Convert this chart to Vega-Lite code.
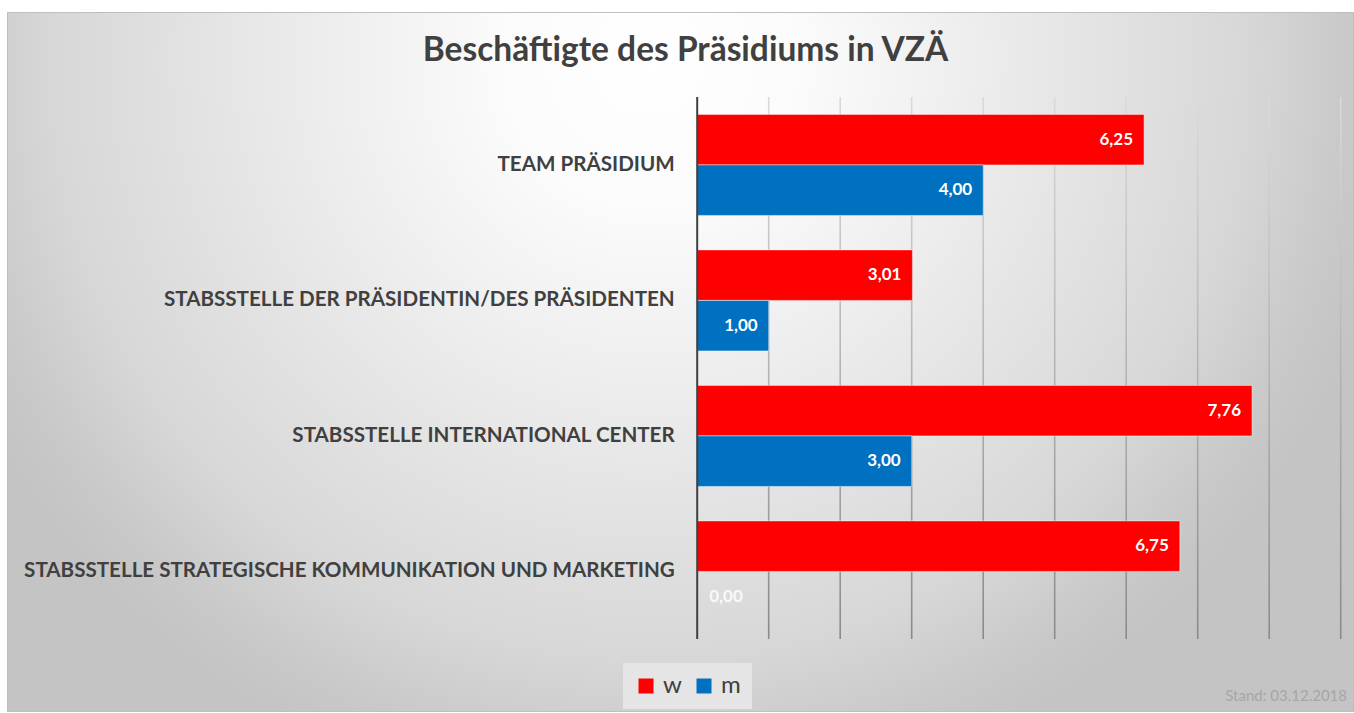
{
  "$schema": "https://vega.github.io/schema/vega-lite/v6.json",
  "width": 1347,
  "height": 700,
  "autosize": {"type": "none"},
  "padding": {"left": 7, "top": 12, "right": 0, "bottom": 1},
  "background": "#ffffff",
  "title": {
    "text": "Beschäftigte des Präsidiums in VZÄ",
    "anchor": "middle",
    "frame": "group",
    "baseline": "alphabetic",
    "offset": -82,
    "dx": 5,
    "font": "Lato",
    "fontSize": 33.5,
    "fontWeight": "bold",
    "color": "#404040"
  },
  "config": {
    "view": {"stroke": null},
    "font": "Lato",
    "scale": {"continuousPadding": 0},
    "locale": {"number": {"decimal": ",", "thousands": ".", "grouping": [3], "currency": ["", " €"]}},
    "legend": {
      "orient": "none",
      "legendX": 616,
      "legendY": 651,
      "direction": "horizontal",
      "fillColor": "#e5e5e5",
      "padding": 11,
      "symbolType": "square",
      "symbolSize": 225,
      "symbolStrokeWidth": 0,
      "labelFontSize": 24,
      "labelFont": "Lato",
      "labelColor": "#404040",
      "labelOffset": 5,
      "columnPadding": 10
    }
  },
  "resolve": {"scale": {"y": "independent"}},
  "layer": [
    {
      "data": {"values": [{"flaeche": "Diagrammbereich"}]},
      "mark": {
        "type": "rect",
        "clip": true,
        "stroke": "#bfbfbf",
        "strokeWidth": 2,
        "fill": {
          "gradient": "radial",
          "x1": 0.477, "y1": 0.2758, "r1": 0,
          "x2": 0.477, "y2": 0.2758, "r2": 0.557,
          "stops": [
            {"offset": 0, "color": "#ffffff"},
            {"offset": 0.2, "color": "#fbfbfb"},
            {"offset": 0.42, "color": "#eeeeee"},
            {"offset": 0.65, "color": "#e0e0e0"},
            {"offset": 0.8, "color": "#d7d7d7"},
            {"offset": 0.93, "color": "#c9c9c9"},
            {"offset": 1, "color": "#c4c4c4"}
          ]
        }
      },
      "encoding": {
        "x": {"datum": -9.653, "type": "quantitative", "scale": {"domain": [-9.653, 9.186], "nice": false, "zero": false, "padding": 0}, "axis": null},
        "x2": {"datum": 9.186},
        "y": {"datum": 1.1568, "type": "quantitative", "scale": {"domain": [-0.1347, 1.1568], "nice": false, "zero": false, "padding": 0}, "axis": null},
        "y2": {"datum": -0.1347}
      }
    },
    {
      "data": {"values": [{"tick": 1}, {"tick": 2}, {"tick": 3}, {"tick": 4}, {"tick": 5}, {"tick": 6}, {"tick": 7}, {"tick": 8}, {"tick": 9}]},
      "mark": {
        "type": "bar",
        "orient": "vertical",
        "width": 1.6,
        "fill": {
          "gradient": "linear",
          "x1": 0, "y1": 0, "x2": 0, "y2": 1,
          "stops": [
            {"offset": 0, "color": "#dadada"},
            {"offset": 0.5, "color": "#b4b4b4"},
            {"offset": 1, "color": "#8a8a8a"}
          ]
        }
      },
      "encoding": {
        "x": {"field": "tick", "type": "quantitative", "scale": {"domain": [-9.653, 9.186], "nice": false, "zero": false, "padding": 0}, "axis": null},
        "y": {"datum": 1, "type": "quantitative", "scale": {"domain": [-0.1347, 1.1568], "nice": false, "zero": false, "padding": 0}, "axis": null},
        "y2": {"datum": 0}
      }
    },
    {
      "data": {"values": [
        {"bereich": "TEAM PRÄSIDIUM", "geschlecht": "w", "vza": 6.25},
        {"bereich": "TEAM PRÄSIDIUM", "geschlecht": "m", "vza": 4.00},
        {"bereich": "STABSSTELLE DER PRÄSIDENTIN/DES PRÄSIDENTEN", "geschlecht": "w", "vza": 3.01},
        {"bereich": "STABSSTELLE DER PRÄSIDENTIN/DES PRÄSIDENTEN", "geschlecht": "m", "vza": 1.00},
        {"bereich": "STABSSTELLE INTERNATIONAL CENTER", "geschlecht": "w", "vza": 7.76},
        {"bereich": "STABSSTELLE INTERNATIONAL CENTER", "geschlecht": "m", "vza": 3.00},
        {"bereich": "STABSSTELLE STRATEGISCHE KOMMUNIKATION UND MARKETING", "geschlecht": "w", "vza": 6.75},
        {"bereich": "STABSSTELLE STRATEGISCHE KOMMUNIKATION UND MARKETING", "geschlecht": "m", "vza": 0.00}
      ]},
      "encoding": {
        "y": {
          "field": "bereich",
          "type": "nominal",
          "sort": ["TEAM PRÄSIDIUM", "STABSSTELLE DER PRÄSIDENTIN/DES PRÄSIDENTEN", "STABSSTELLE INTERNATIONAL CENTER", "STABSSTELLE STRATEGISCHE KOMMUNIKATION UND MARKETING"],
          "scale": {"paddingInner": 0.2546, "paddingOuter": 0.7104, "align": 0.532},
          "axis": {
            "orient": "left",
            "offset": -690.2,
            "zindex": 2,
            "title": null,
            "domain": false,
            "ticks": false,
            "tickSize": 0,
            "grid": false,
            "labelPadding": 23,
            "labelFont": "Lato",
            "labelFontSize": 20.6,
            "labelFontWeight": "bold",
            "labelColor": "#404040",
            "labelLimit": 1000
          }
        },
        "yOffset": {"field": "geschlecht", "type": "nominal", "sort": ["w", "m"], "scale": {"paddingInner": 0, "paddingOuter": 0}},
        "x": {"field": "vza", "type": "quantitative", "scale": {"domain": [-9.653, 9.186], "nice": false, "zero": false, "padding": 0}, "axis": null}
      },
      "layer": [
        {
          "mark": {"type": "bar", "stroke": "#ffffff", "strokeOpacity": 0.45, "strokeWidth": 1},
          "encoding": {
            "color": {
              "field": "geschlecht",
              "type": "nominal",
              "scale": {"domain": ["w", "m"], "range": ["#ff0000", "#0070c0"]},
              "legend": {"title": null, "symbolStrokeWidth": 0}
            }
          }
        },
        {
          "transform": [{"filter": "datum.vza > 0"}],
          "mark": {"type": "text", "align": "right", "baseline": "middle", "dx": -11, "font": "Lato", "fontWeight": "bold", "fontSize": 17, "color": "#ffffff"},
          "encoding": {"text": {"field": "vza", "type": "quantitative", "format": ".2f"}}
        },
        {
          "transform": [{"filter": "datum.vza == 0"}],
          "mark": {"type": "text", "align": "left", "baseline": "middle", "dx": 12, "font": "Lato", "fontWeight": "bold", "fontSize": 17, "color": "#ffffff", "opacity": 0.85},
          "encoding": {"text": {"field": "vza", "type": "quantitative", "format": ".2f"}}
        }
      ]
    },
    {
      "data": {"values": [{"achse": 0}]},
      "mark": {"type": "rule", "color": "#404040", "strokeWidth": 2},
      "encoding": {
        "x": {"field": "achse", "type": "quantitative", "scale": {"domain": [-9.653, 9.186], "nice": false, "zero": false, "padding": 0}, "axis": null},
        "y": {"datum": 0, "type": "quantitative", "scale": {"domain": [-0.1347, 1.1568], "nice": false, "zero": false, "padding": 0}, "axis": null},
        "y2": {"datum": 1}
      }
    },
    {
      "data": {"values": [{"stand": "Stand: 03.12.2018"}]},
      "mark": {"type": "text", "align": "right", "baseline": "alphabetic", "font": "Lato", "fontSize": 15, "color": "#a6a6a6"},
      "encoding": {
        "text": {"field": "stand", "type": "nominal"},
        "x": {"datum": 9.088, "type": "quantitative", "scale": {"domain": [-9.653, 9.186], "nice": false, "zero": false, "padding": 0}, "axis": null},
        "y": {"datum": -0.1144, "type": "quantitative", "scale": {"domain": [-0.1347, 1.1568], "nice": false, "zero": false, "padding": 0}, "axis": null}
      }
    }
  ]
}
